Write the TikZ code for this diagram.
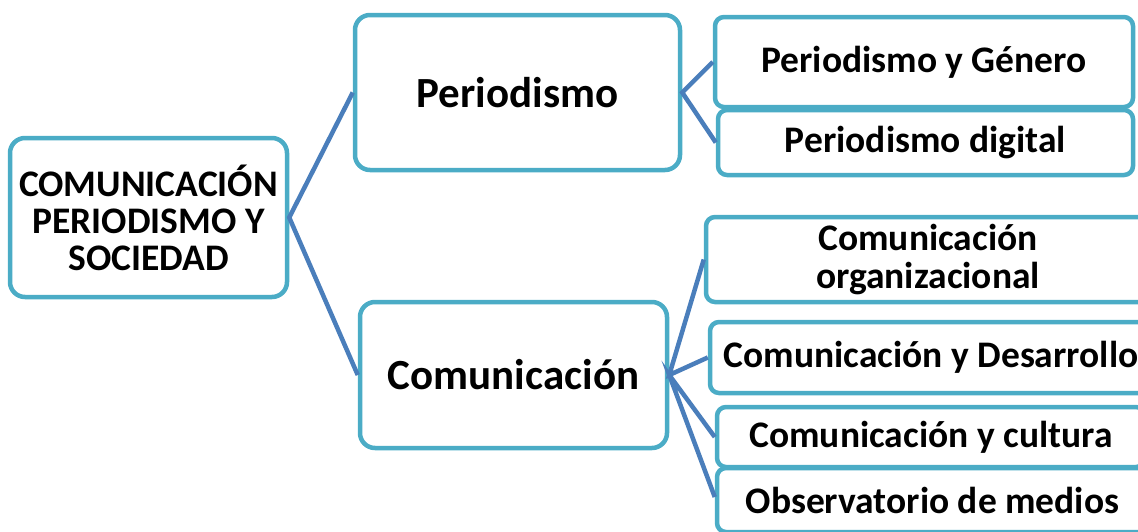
\documentclass[tikz,border=0pt]{standalone}
\usepackage{fontspec}
\setmainfont{Carlito}
\definecolor{boxline}{RGB}{75,172,198}
\definecolor{conn}{RGB}{74,126,187}
\tikzset{
  box/.style={draw=boxline, line width=4.5pt, fill=white, rounded corners=15pt, inner sep=0pt, align=center, text=black},
  childbox/.style={box, rounded corners=9pt},
  bigtext/.style={font=\bfseries\fontsize{43}{46}\selectfont},
  roottext/.style={font=\bfseries\fontsize{37.5}{37}\selectfont},
  childtext/.style={font=\bfseries\fontsize{37.5}{38}\selectfont},
  link/.style={draw=conn, line width=4.5pt, line join=miter}
}
\begin{document}
\begin{tikzpicture}[x=1pt,y=-1pt]
\useasboundingbox (0,0) rectangle (1138,531);
\clip (0,0) rectangle (1138,531);
\node[box, roottext, minimum width=277pt, minimum height=159pt] (root) at (148.5,217.5) {COMUNICACIÓN\\PERIODISMO Y\\SOCIEDAD};
\node[box, bigtext, minimum width=325pt, minimum height=155pt] (per) at (517.5,92.5) {Periodismo};
\node[box, bigtext, minimum width=307pt, minimum height=146pt] (com) at (513.5,375) {Comunicación};
\node[childbox, childtext, minimum width=418pt, minimum height=90pt] (pyg) at (924,62) {Periodismo y Género};
\node[childbox, childtext, minimum width=415pt, minimum height=65pt] (pd) at (925.5,142.5) {Periodismo digital};
\node[childbox, childtext, minimum width=444pt, minimum height=85pt] (co) at (928,259.5) {Comunicación\\organizacional};
\node[childbox, childtext, minimum width=442pt, minimum height=71pt] (cyd) at (931,357.5) {Comunicación y Desarrollo};
\node[childbox, childtext, minimum width=428pt, minimum height=60pt] (cyc) at (931,437) {Comunicación y cultura};
\node[childbox, childtext, minimum width=431pt, minimum height=64pt] (odm) at (932.5,500) {Observatorio de medios};
\draw[link] (per.west) -- (root.east) -- (com.west);
\draw[link] (pyg.west) -- (per.east) -- (pd.west);
\draw[link] (co.west) -- (com.east) -- (cyd.west);
\draw[link] (cyc.west) -- (com.east) -- ([yshift=3pt]odm.west);
\end{tikzpicture}
\end{document}
